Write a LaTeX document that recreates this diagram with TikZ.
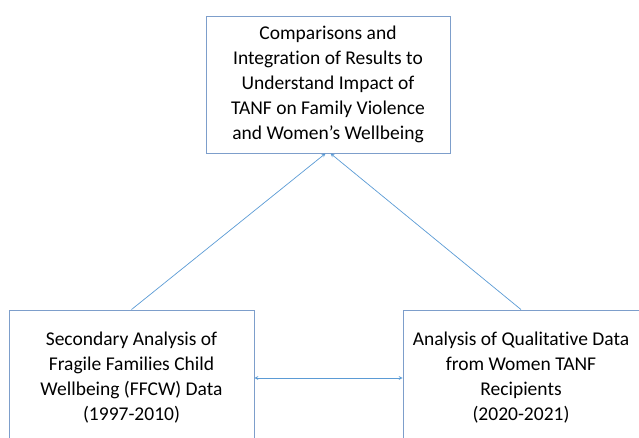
\documentclass[tikz,border=0pt]{standalone}
\usepackage{fontspec}
\setmainfont{Carlito}[Ligatures=NoCommon]
\usepackage{tikz}
\usetikzlibrary{arrows,positioning}
\usepackage{xcolor}
\definecolor{boxedge}{RGB}{125,158,203}
\definecolor{linkblue}{RGB}{91,155,213}
\tikzstyle{studybox} = [rectangle, text centered, align=center, draw=boxedge, fill=white, line width=0.9pt, font=\fontsize{19.5}{25}\selectfont, inner sep=0pt]
\tikzstyle{arrow} = [line width=0.7pt,-stealth,color=linkblue]
\tikzstyle{twoway} = [line width=0.7pt,stealth-stealth,color=linkblue]

\begin{document}
\begin{tikzpicture}[x=1pt,y=-1pt]
\useasboundingbox (0,0) rectangle (639,438);
\clip (0,0) rectangle (639,438);

% Integration box
\node[studybox, minimum width=244pt, minimum height=137pt] (integ) at (328,84.5) {Comparisons and\\Integration of Results to\\Understand Impact of\\TANF on Family Violence\\and Women’s Wellbeing};

% Two data sources
\node[studybox, minimum width=245pt, minimum height=136pt] (ffcw) at (131.5,378) {Secondary Analysis of\\Fragile Families Child\\Wellbeing (FFCW) Data\\(1997-2010)};
\node[studybox, minimum width=236pt, minimum height=136pt] (qual) at (521,378) {Analysis of Qualitative Data\\from Women TANF\\Recipients\\(2020-2021)};

% Arrows
\draw[arrow] (ffcw.north) -- ([xshift=-2.5pt]integ.south);
\draw[arrow] (qual.north) -- ([xshift=2.5pt]integ.south);
\draw[twoway] (ffcw.east) -- (qual.west);
\end{tikzpicture}
\end{document}
